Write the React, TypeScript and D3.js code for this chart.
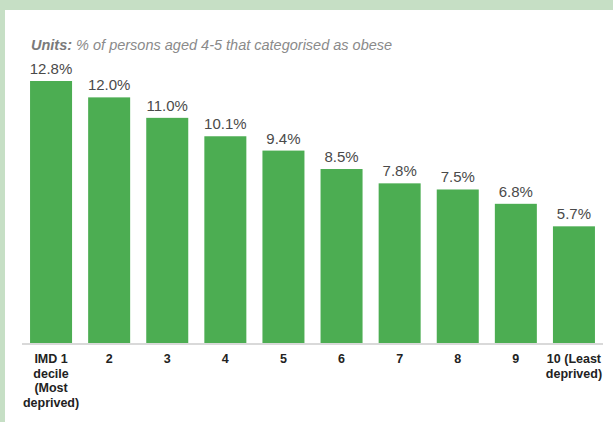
import React from "react";
import * as d3 from "d3";

const categories: string[][] = [
  ["IMD 1", "decile", "(Most", "deprived)"],
  ["2"],
  ["3"],
  ["4"],
  ["5"],
  ["6"],
  ["7"],
  ["8"],
  ["9"],
  ["10 (Least", "deprived)"],
];
const values: number[] = [12.8, 12.0, 11.0, 10.1, 9.4, 8.5, 7.8, 7.5, 6.8, 5.7];
const unitsLabel = "Units:";
const unitsText = " % of persons aged 4-5 that categorised as obese";

const W = 613;
const H = 422;
const FONT = "'Liberation Sans', Arial, Helvetica, sans-serif";

export default function App() {
  const keys = categories.map((_, i) => String(i));
  const x = d3
    .scaleBand<string>()
    .domain(keys)
    .range([22, 603])
    .paddingInner(0.277)
    .paddingOuter(0.1385);
  const y = d3.scaleLinear().domain([0, 12.8]).range([343, 81]);
  const bw = x.bandwidth();

  return (
    <div style={{ position: "fixed", left: 0, top: 0 }}>
      <svg width={W} height={H} style={{ display: "block" }}>
        <rect x={0} y={0} width={W} height={H} fill="#c6dfc5" />
        <rect x={5} y={10} width={W - 5} height={H - 10} fill="#ffffff" />
        <text x={31} y={50} fontFamily={FONT} fontSize={14.5} fontStyle="italic" fill="#8a8a8a">
          <tspan fontWeight="bold" fill="#7a7a7a">{unitsLabel}</tspan>
          <tspan>{unitsText}</tspan>
        </text>
        {values.map((v, i) => {
          const bx = x(keys[i]) as number;
          return (
            <g key={i}>
              <rect x={bx} y={y(v)} width={bw} height={y(0) - y(v)} fill="#4cad52" />
              <text
                x={bx + bw / 2}
                y={y(v) - 7}
                textAnchor="middle"
                fontFamily={FONT}
                fontSize={15}
                fill="#4a4a4a"
              >
                {v.toFixed(1) + "%"}
              </text>
              <text
                x={bx + bw / 2}
                y={363}
                textAnchor="middle"
                fontFamily={FONT}
                fontSize={12.5}
                fontWeight="bold"
                fill="#222"
              >
                {categories[i].map((line, j) => (
                  <tspan key={j} x={bx + bw / 2} dy={j === 0 ? 0 : 14.7}>
                    {line}
                  </tspan>
                ))}
              </text>
            </g>
          );
        })}
        <line x1={22} x2={603} y1={344} y2={344} stroke="#cccccc" strokeWidth={1.5} />
      </svg>
    </div>
  );
}
